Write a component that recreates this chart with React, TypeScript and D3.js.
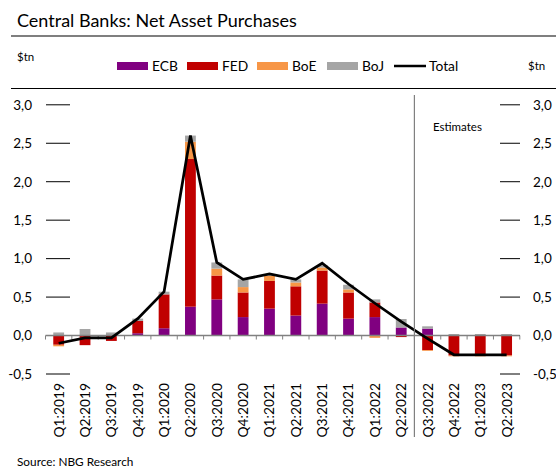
import React from "react";
import * as d3 from "d3";

const categories = [
  "Q1:2019", "Q2:2019", "Q3:2019", "Q4:2019",
  "Q1:2020", "Q2:2020", "Q3:2020", "Q4:2020",
  "Q1:2021", "Q2:2021", "Q3:2021", "Q4:2021",
  "Q1:2022", "Q2:2022", "Q3:2022", "Q4:2022",
  "Q1:2023", "Q2:2023",
];
const ecb = [0, 0, 0, 0.03, 0.095, 0.375, 0.47, 0.24, 0.35, 0.26, 0.415, 0.22, 0.24, 0.105, 0.09, 0, 0, 0];
const fed = [-0.12, -0.125, -0.07, 0.16, 0.44, 1.92, 0.31, 0.32, 0.36, 0.38, 0.43, 0.34, 0.19, -0.02, -0.19, -0.26, -0.26, -0.26];
const boe = [-0.02, 0, 0, 0, 0, 0.225, 0.09, 0.07, 0.07, 0.05, 0.04, 0.04, -0.03, 0, -0.01, -0.01, -0.01, -0.01];
const boj = [0.04, 0.085, 0.04, 0.03, 0.035, 0.08, 0.08, 0.1, 0.01, 0.04, 0.03, 0.06, 0.04, 0.11, 0.03, 0.02, 0.02, 0.02];
const total = [-0.1, -0.03, -0.03, 0.22, 0.57, 2.6, 0.95, 0.73, 0.8, 0.73, 0.94, 0.67, 0.42, 0.18, -0.04, -0.25, -0.25, -0.25];
const yTicks = [-0.5, 0, 0.5, 1, 1.5, 2, 2.5, 3];
const seriesNames = ["ECB", "FED", "BoE", "BoJ"];
const seriesColors = ["#800080", "#C00000", "#F79646", "#A5A5A5"];
const estimatesFrom = "Q3:2022";

const FONT = "Lato, 'Open Sans', sans-serif";

export default function App() {
  const W = 556;
  const H = 470;
  const x = d3
    .scaleBand<string>()
    .domain(categories)
    .range([45.5, 519.8])
    .paddingInner(0.59)
    .paddingOuter(0.295);
  const y = d3.scaleLinear().domain([-0.5, 3]).range([374, 104.8]);
  const step = x.step();
  const left = 45.5;
  const right = 519.8;
  const y0 = y(0);

  const rows = categories.map((c, i) => ({
    cat: c,
    ECB: ecb[i],
    FED: fed[i],
    BoE: boe[i],
    BoJ: boj[i],
  }));
  const stack = d3
    .stack<any>()
    .keys(seriesNames)
    .offset(d3.stackOffsetDiverging);
  const layers = stack(rows);

  const line = d3
    .line<number>()
    .x((_, i) => (x(categories[i]) as number) + x.bandwidth() / 2)
    .y((d) => y(d));

  const fmt = (v: number) => v.toFixed(1).replace(".", ",");
  const divX = (x(estimatesFrom) as number) - (step - x.bandwidth()) / 2;

  const legend = [
    { name: "ECB", color: seriesColors[0], x: 117 },
    { name: "FED", color: seriesColors[1], x: 187 },
    { name: "BoE", color: seriesColors[2], x: 257 },
    { name: "BoJ", color: seriesColors[3], x: 327 },
  ];

  return (
    <div style={{ position: "fixed", left: 0, top: 0 }}>
      <svg width={W} height={H} style={{ display: "block", fontFamily: FONT }}>
        <rect width={W} height={H} fill="#fff" />
        <text x={17} y={27} fontSize={18} fill="#000">
          Central Banks: Net Asset Purchases
        </text>
        <line x1={11} x2={W} y1={36} y2={36} stroke="#000" strokeWidth={1.2} />
        <line x1={11} x2={W} y1={88.5} y2={88.5} stroke="#000" strokeWidth={1.2} />
        <text x={17} y={61} fontSize={11.5} fill="#000">$tn</text>
        <text x={528} y={70} fontSize={11.5} fill="#000">$tn</text>

        {legend.map((l) => (
          <g key={l.name}>
            <rect x={l.x} y={62} width={31} height={8} fill={l.color} />
            <text x={l.x + 35} y={70.5} fontSize={13.8} fill="#000">
              {l.name}
            </text>
          </g>
        ))}
        <line x1={394} x2={426} y1={66} y2={66} stroke="#000" strokeWidth={2.5} />
        <text x={429} y={70.5} fontSize={13.8} fill="#000">Total</text>

        {yTicks.map((t) => (
          <g key={t}>
            <line x1={46} x2={70} y1={y(t)} y2={y(t)} stroke="#000" strokeWidth={1} />
            <line x1={500} x2={520} y1={y(t)} y2={y(t)} stroke="#000" strokeWidth={1} />
            <text x={32} y={y(t)} dy="0.36em" textAnchor="end" fontSize={13.5} fill="#000">
              {fmt(t)}
            </text>
            <text x={533} y={y(t)} dy="0.36em" textAnchor="start" fontSize={13.5} fill="#000">
              {fmt(t)}
            </text>
          </g>
        ))}

        {layers.map((layer, si) => (
          <g key={layer.key} fill={seriesColors[si]}>
            {layer.map((d, i) => {
              const top = Math.min(y(d[0]), y(d[1]));
              const h = Math.abs(y(d[0]) - y(d[1]));
              if (h < 0.01) return null;
              return (
                <rect
                  key={i}
                  x={x(categories[i])}
                  y={top}
                  width={x.bandwidth()}
                  height={h}
                />
              );
            })}
          </g>
        ))}

        <line x1={left} x2={right} y1={y0} y2={y0} stroke="#808080" strokeWidth={1.5} />
        {d3.range(categories.length + 1).map((i) => (
          <line
            key={i}
            x1={left + i * step}
            x2={left + i * step}
            y1={y0}
            y2={y0 + 4}
            stroke="#808080"
            strokeWidth={1}
          />
        ))}

        <path d={line(total) || ""} fill="none" stroke="#000" strokeWidth={2.75} strokeLinejoin="miter" />

        <line x1={divX} x2={divX} y1={95} y2={437} stroke="#808080" strokeWidth={1.2} />
        <text x={433} y={131} fontSize={11.5} fill="#000">Estimates</text>

        {categories.map((c) => {
          const cx = (x(c) as number) + x.bandwidth() / 2;
          return (
            <text
              key={c}
              transform={`translate(${cx},383) rotate(-90)`}
              textAnchor="end"
              dy="0.36em"
              fontSize={13.8}
              fill="#000"
            >
              {c}
            </text>
          );
        })}

        <text x={17} y={466} fontSize={11.8} fill="#000">Source: NBG Research</text>
      </svg>
    </div>
  );
}
